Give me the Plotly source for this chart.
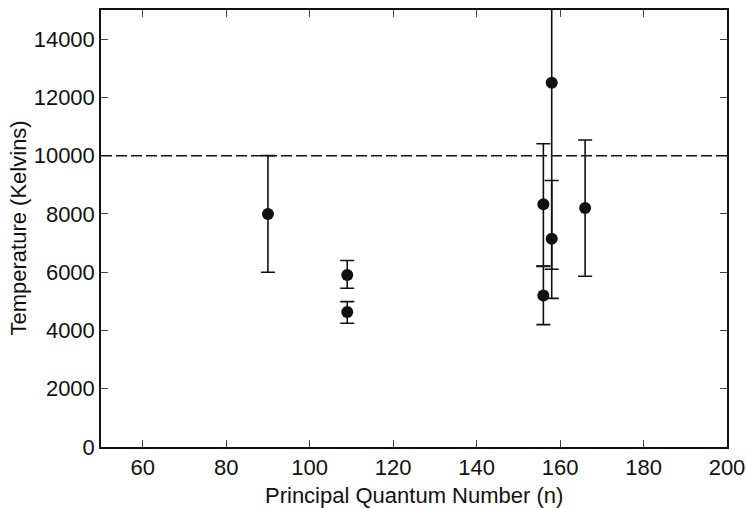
import plotly.graph_objects as go

n_values = [90, 109, 109, 156, 156, 158, 158, 166]
temperature = [8000, 5900, 4630, 8330, 5200, 12500, 7150, 8200]
err_plus = [2000, 500, 360, 2080, 1000, 6400, 2000, 2340]
err_minus = [2000, 450, 380, 2120, 1000, 6400, 2050, 2340]
reference_temp = 10000
x_ticks = [60, 80, 100, 120, 140, 160, 180, 200]
y_ticks = [0, 2000, 4000, 6000, 8000, 10000, 12000, 14000]

fig = go.Figure()
fig.add_trace(go.Scatter(
    x=n_values, y=temperature, mode="markers",
    marker=dict(color="#111111", size=12),
    error_y=dict(type="data", symmetric=False, array=err_plus, arrayminus=err_minus,
                 color="#111111", thickness=1.6, width=7),
    showlegend=False,
))
fig.add_shape(type="line", xref="paper", x0=0, x1=1, yref="y", y0=reference_temp, y1=reference_temp,
              line=dict(color="#111111", width=1.5, dash="11px,4px"))

fam = "Liberation Sans Narrow, Arial Narrow, Liberation Sans, sans-serif"
tick_font = dict(family=fam, size=22, color="#111111")
title_font = dict(family=fam, size=22, color="#111111")
fig.update_layout(
    width=746, height=508,
    margin=dict(l=101, r=19, t=10, b=61),
    plot_bgcolor="white", paper_bgcolor="white",
    font=dict(family=fam, size=22, color="#111111"),
    xaxis=dict(range=[50, 200], tickvals=x_ticks, ticktext=[str(v) for v in x_ticks],
               ticks="inside", ticklen=7, tickwidth=1.2, tickfont=tick_font,
               showline=True, linecolor="#111111", linewidth=1.5, mirror="ticks",
               showgrid=False, zeroline=False, automargin=False),
    yaxis=dict(range=[0, 15000], tickvals=y_ticks, ticktext=[str(v) for v in y_ticks],
               ticks="inside", ticklen=7, tickwidth=1.2, tickfont=tick_font,
               showline=True, linecolor="#111111", linewidth=1.5, mirror="ticks",
               showgrid=False, zeroline=False, automargin=False),
    annotations=[
        dict(text="Principal Quantum Number (n)", xref="paper", x=0.5, yref="paper",
             y=0, yshift=-48, xanchor="center", yanchor="middle", showarrow=False,
             font=title_font),
        dict(text="Temperature (Kelvins)", xref="paper", x=0, xshift=-83,
             yref="paper", y=0.5, xanchor="center", yanchor="middle", textangle=-90,
             showarrow=False, font=title_font),
    ],
)
fig.write_html("out.html", config={"displayModeBar": False},
               post_script="document.body.style.margin='0';document.body.style.overflow='hidden';")
